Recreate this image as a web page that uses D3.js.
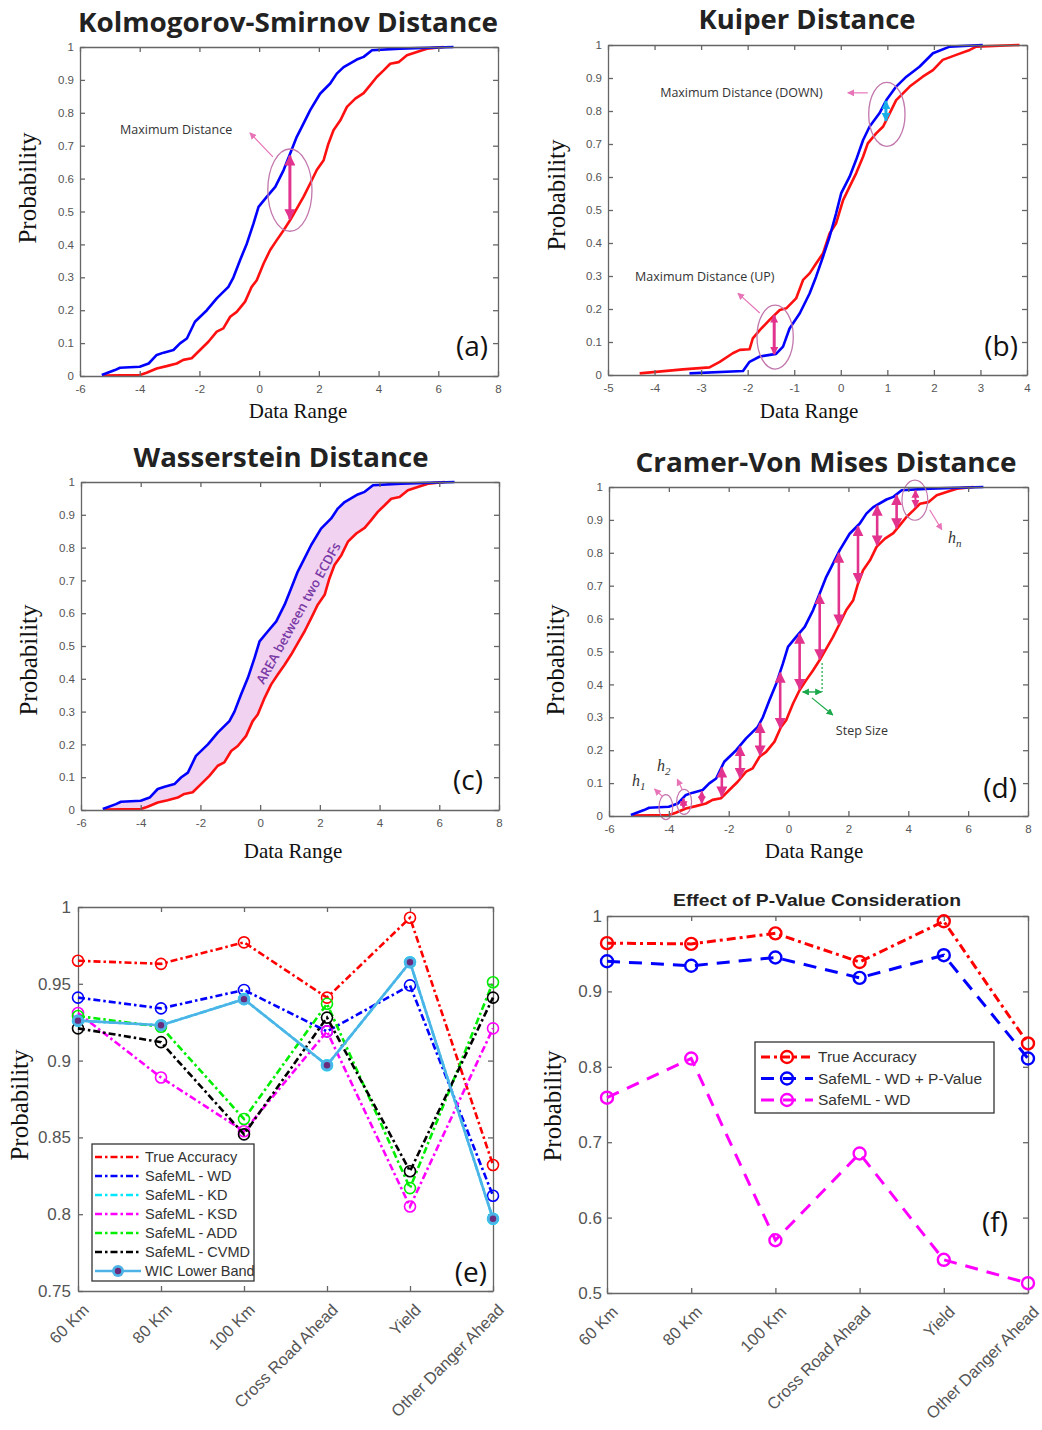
<!DOCTYPE html>
<html>
<head>
<meta charset="utf-8">
<script src="https://cdn.jsdelivr.net/npm/d3@7"></script>
<style>
  body { margin: 0; background: #fff; }
  svg { display: block; }
  .axis path, .axis line { stroke: #666; stroke-width: 1.3; }
  .axis text { font-family: "Liberation Sans", Arial, sans-serif; fill: #555; }
  .title { font-family: "Open Sans", sans-serif; font-weight: 700; fill: #222; }
  .serif { font-family: "Liberation Serif", "Times New Roman", serif; fill: #111; }
  .note { font-family: "Open Sans", sans-serif; fill: #333; }
  .tag { font-family: "Open Sans", sans-serif; fill: #111; }
  .legend text { font-family: "Liberation Sans", Arial, sans-serif; fill: #333; }
</style>
</head>
<body>
<svg id="chart" width="1042" height="1430"></svg>
<script>
// ECDFs used in panels (a), (c), (d)
const ecdfBlueX = [-5.27, -4.83, -4.66, -4.0, -3.7, -3.43, -3.2, -2.87, -2.65, -2.42, -2.15, -1.75, -1.42, -1.03, -0.86, -0.64, -0.41, -0.19, -0.02, 0.26, 0.54, 0.82, 1.04, 1.26, 1.43, 1.71, 2.04, 2.38, 2.6, 2.83, 3.27, 3.5, 3.78, 4.72, 6.51]
const ecdfBlueP = [0.003, 0.018, 0.025, 0.028, 0.038, 0.064, 0.071, 0.079, 0.099, 0.114, 0.165, 0.2, 0.236, 0.271, 0.3, 0.352, 0.403, 0.463, 0.514, 0.545, 0.575, 0.626, 0.676, 0.727, 0.757, 0.808, 0.858, 0.889, 0.919, 0.939, 0.962, 0.97, 0.99, 0.995, 1.0]
const ecdfRedX = [-5.22, -3.99, -3.77, -3.43, -3.1, -2.76, -2.54, -2.26, -1.98, -1.7, -1.42, -1.2, -0.97, -0.75, -0.47, -0.25, -0.08, 0.15, 0.37, 0.59, 0.82, 1.04, 1.26, 1.49, 1.71, 1.93, 2.16, 2.32, 2.49, 2.72, 2.94, 3.22, 3.5, 3.72, 3.94, 4.17, 4.39, 4.67, 4.95, 5.28, 5.62, 6.18]
const ecdfRedP = [0.001, 0.003, 0.01, 0.023, 0.03, 0.038, 0.049, 0.054, 0.079, 0.104, 0.135, 0.145, 0.18, 0.195, 0.226, 0.271, 0.291, 0.342, 0.383, 0.413, 0.443, 0.474, 0.509, 0.545, 0.585, 0.626, 0.656, 0.706, 0.747, 0.777, 0.818, 0.843, 0.86, 0.884, 0.909, 0.929, 0.949, 0.954, 0.975, 0.985, 0.995, 1.0]

// ECDFs of panel (b)
const kuiperBlueX = [-3.25, -2.1, -1.96, -1.74, -1.39, -1.24, -1.1, -0.88, -0.67, -0.53, -0.38, -0.24, -0.1, 0.01, 0.19, 0.33, 0.48, 0.62, 0.83, 0.98, 1.19, 1.41, 1.69, 1.98, 2.34, 3.05]
const kuiperBlueP = [0.005, 0.012, 0.04, 0.056, 0.064, 0.086, 0.141, 0.187, 0.247, 0.298, 0.359, 0.419, 0.49, 0.551, 0.601, 0.652, 0.712, 0.753, 0.793, 0.833, 0.874, 0.904, 0.934, 0.975, 0.995, 1.0]
const kuiperRedX = [-4.32, -3.39, -2.82, -2.6, -2.32, -2.17, -1.96, -1.89, -1.74, -1.53, -1.31, -1.17, -0.96, -0.81, -0.67, -0.53, -0.38, -0.24, -0.1, 0.05, 0.19, 0.33, 0.48, 0.58, 0.76, 0.91, 1.05, 1.19, 1.48, 1.76, 1.98, 2.19, 2.48, 2.77, 2.91, 3.84]
const kuiperRedP = [0.005, 0.017, 0.023, 0.04, 0.066, 0.076, 0.078, 0.111, 0.136, 0.167, 0.197, 0.202, 0.232, 0.288, 0.308, 0.338, 0.369, 0.429, 0.46, 0.53, 0.571, 0.611, 0.662, 0.702, 0.732, 0.753, 0.793, 0.833, 0.874, 0.904, 0.924, 0.955, 0.97, 0.985, 0.995, 1.0]

// where the h_i arrows of panel (d) stand
const cvmArrowX = [-3.51, -2.9, -2.23, -1.62, -0.95, -0.28, 0.37, 1.04, 1.68, 2.32, 2.96, 3.61, 4.24]

// panel (e)
const signs = ['60 Km', '80 Km', '100 Km', 'Cross Road Ahead', 'Yield', 'Other Danger Ahead']
const trueAccuracy = [0.965, 0.963, 0.977, 0.941, 0.993, 0.832]
const safemlWD = [0.941, 0.934, 0.946, 0.919, 0.949, 0.812]
const safemlKD = [0.926, 0.923, 0.940, 0.897, 0.964, 0.797]
const safemlKSD = [0.931, 0.889, 0.854, 0.919, 0.805, 0.921]
const safemlADD = [0.929, 0.922, 0.862, 0.937, 0.817, 0.951]
const safemlCVMD = [0.921, 0.912, 0.852, 0.928, 0.828, 0.941]
const wicLowerBand = [0.926, 0.923, 0.940, 0.897, 0.964, 0.797]

// panel (f)
const pTrueAccuracy = [0.964, 0.963, 0.977, 0.939, 0.993, 0.831]
const pSafemlWDPValue = [0.940, 0.934, 0.945, 0.918, 0.948, 0.811]
const pSafemlWD = [0.759, 0.811, 0.570, 0.685, 0.544, 0.513]

const BLUE = '#0000ff'
const RED = '#ff1010'
const PINK = '#e2338f'
const RING = '#c277ad'

const svg = d3.select('#chart')
const defs = svg.append('defs')

function marker(id, color, size) {
    defs.append('marker')
        .attr('id', id)
        .attr('viewBox', '0 0 10 10')
        .attr('refX', 9).attr('refY', 5)
        .attr('markerWidth', size).attr('markerHeight', size)
        .attr('markerUnits', 'userSpaceOnUse')
        .attr('orient', 'auto-start-reverse')
        .append('path')
            .attr('d', 'M0,0 L10,5 L0,10 Z')
            .attr('fill', color)
}
marker('head-pink', PINK, 11)
marker('head-small', PINK, 8)
marker('head-thin', '#e874b8', 7)
marker('head-cyan', '#18aee8', 9)
marker('head-green', '#1aa84a', 7)

// linear reading of an ECDF at v
function at(xs, ps, v) {
    const i = Math.min(Math.max(d3.bisectRight(xs, v), 1), xs.length - 1)
    const t = (v - xs[i - 1]) / (xs[i] - xs[i - 1])
    return ps[i - 1] + t * (ps[i] - ps[i - 1])
}

function frame(g, x, y, xTicks, yTicks, o) {
    const [x0, x1] = x.range()
    const [y0, y1] = y.range()
    g.append('g').attr('class', 'axis').attr('transform', `translate(0,${y0})`)
        .call(d3.axisBottom(x).tickValues(xTicks).tickSize(-5).tickSizeOuter(0)
            .tickPadding(o.xPad).tickFormat(o.xFmt || (d => d)))
        .selectAll('text').style('font-size', o.font + 'px')
    g.append('g').attr('class', 'axis').attr('transform', `translate(0,${y1})`)
        .call(d3.axisTop(x).tickValues(xTicks).tickSize(-5).tickSizeOuter(0).tickFormat(''))
    g.append('g').attr('class', 'axis').attr('transform', `translate(${x0},0)`)
        .call(d3.axisLeft(y).tickValues(yTicks).tickSize(-5).tickSizeOuter(0)
            .tickPadding(o.yPad).tickFormat(d => +d.toFixed(2)))
        .selectAll('text').style('font-size', o.font + 'px')
    g.append('g').attr('class', 'axis').attr('transform', `translate(${x1},0)`)
        .call(d3.axisRight(y).tickValues(yTicks).tickSize(-5).tickSizeOuter(0).tickFormat(''))
}

function title(text, cx, base, width, size, font) {
    svg.append('text').attr('class', 'title')
        .attr('x', cx).attr('y', base)
        .attr('text-anchor', 'middle')
        .attr('textLength', width).attr('lengthAdjust', 'spacingAndGlyphs')
        .style('font-size', size + 'px')
        .style('font-family', font || null)
        .text(text)
}

function yLabel(cx, cy) {
    svg.append('text').attr('class', 'serif')
        .attr('transform', `translate(${cx},${cy}) rotate(-90)`)
        .attr('text-anchor', 'middle').attr('dy', '0.35em')
        .style('font-size', '25px')
        .text('Probability')
}

function xLabel(cx, base) {
    svg.append('text').attr('class', 'serif')
        .attr('x', cx).attr('y', base)
        .attr('text-anchor', 'middle')
        .style('font-size', '21px')
        .text('Data Range')
}

function tag(text, xr, base) {
    svg.append('text').attr('class', 'tag')
        .attr('x', xr).attr('y', base).attr('text-anchor', 'end')
        .style('font-size', '28px')
        .text(text)
}

function ecdfPanel(box, xDomain, xStep) {
    const x = d3.scaleLinear().domain(xDomain).range([box.left, box.right])
    const y = d3.scaleLinear().domain([0, 1]).range([box.bottom, box.top])
    const g = svg.append('g')
    g.append('rect')
        .attr('x', box.left).attr('y', box.top)
        .attr('width', box.right - box.left).attr('height', box.bottom - box.top)
        .attr('fill', '#fff')
    const body = g.append('g')
    frame(g, x, y, d3.range(xDomain[0], xDomain[1] + 0.01, xStep), d3.range(0, 1.001, 0.1),
        { xPad: 9, yPad: 6, font: 11.5 })
    return { g: body, x, y }
}

function curve(p, xs, ps, color) {
    const line = d3.line().x(d => p.x(d[0])).y(d => p.y(d[1]))
    p.g.append('path')
        .attr('d', line(d3.zip(xs, ps)))
        .attr('fill', 'none').attr('stroke', color)
        .attr('stroke-width', 2.6).attr('stroke-linejoin', 'round')
}

function ring(p, cx, cy, rx, ry, w) {
    p.g.append('ellipse')
        .attr('cx', p.x(cx)).attr('cy', p.y(cy))
        .attr('rx', Math.abs(p.x(rx) - p.x(0))).attr('ry', Math.abs(p.y(ry) - p.y(0)))
        .attr('fill', 'none').attr('stroke', RING).attr('stroke-width', w || 1.3)
}

function arrow(p, xa, ya, xb, yb, color, width, head, both) {
    const l = p.g.append('line')
        .attr('x1', p.x(xa)).attr('y1', p.y(ya))
        .attr('x2', p.x(xb)).attr('y2', p.y(yb))
        .attr('stroke', color).attr('stroke-width', width)
        .attr('marker-end', `url(#${head})`)
    if (both) l.attr('marker-start', `url(#${head})`)
    return l
}

function note(p, text, xv, yv, size) {
    p.g.append('text').attr('class', 'note')
        .attr('x', p.x(xv)).attr('y', p.y(yv))
        .style('font-size', (size || 12.5) + 'px')
        .text(text)
}

// ---------- (a) Kolmogorov-Smirnov ----------
const pa = ecdfPanel({ left: 80, right: 498, top: 47, bottom: 376 }, [-6, 8], 2)
curve(pa, ecdfRedX, ecdfRedP, RED)
curve(pa, ecdfBlueX, ecdfBlueP, BLUE)
ring(pa, 1.03, 0.565, 0.74, 0.125)
arrow(pa, 1.03, at(ecdfRedX, ecdfRedP, 1.03) + 0.004, 1.03, at(ecdfBlueX, ecdfBlueP, 1.03) - 0.004, PINK, 3, 'head-pink', true)
arrow(pa, 0.46, 0.666, -0.31, 0.739, '#e874b8', 1.2, 'head-thin')
note(pa, 'Maximum  Distance', -4.66, 0.736)
title('Kolmogorov-Smirnov Distance', 288, 32, 420, 26)
yLabel(27, 188)
xLabel(298, 418)
tag('(a)', 488, 356)

// ---------- (b) Kuiper ----------
const pb = ecdfPanel({ left: 608, right: 1027, top: 45, bottom: 375 }, [-5, 4], 1)
curve(pb, kuiperRedX, kuiperRedP, RED)
curve(pb, kuiperBlueX, kuiperBlueP, BLUE)
ring(pb, 0.99, 0.79, 0.39, 0.097)
ring(pb, -1.41, 0.115, 0.39, 0.097)
arrow(pb, 0.97, at(kuiperRedX, kuiperRedP, 0.97), 0.97, at(kuiperBlueX, kuiperBlueP, 0.97), '#18aee8', 3, 'head-cyan', true)
arrow(pb, -1.43, at(kuiperBlueX, kuiperBlueP, -1.43), -1.43, at(kuiperRedX, kuiperRedP, -1.43), PINK, 3, 'head-small', true)
arrow(pb, 0.58, 0.855, 0.15, 0.855, '#e874b8', 1.2, 'head-thin')
arrow(pb, -1.74, 0.188, -2.21, 0.248, '#e874b8', 1.2, 'head-thin')
note(pb, 'Maximum  Distance (DOWN)', -3.88, 0.842)
note(pb, 'Maximum  Distance (UP)', -4.42, 0.285)
title('Kuiper Distance', 807, 29, 217, 26)
yLabel(556, 195)
xLabel(809, 418)
tag('(b)', 1018, 356)

// ---------- (c) Wasserstein ----------
const pc = ecdfPanel({ left: 81, right: 499, top: 482, bottom: 810 }, [-6, 8], 2)
const band = d3.zip(ecdfBlueX, ecdfBlueP).concat(d3.zip(ecdfRedX, ecdfRedP).reverse())
pc.g.append('path')
    .attr('d', d3.line().x(d => pc.x(d[0])).y(d => pc.y(d[1]))(band) + 'Z')
    .attr('fill', '#f1d2f1').attr('stroke', 'none')
curve(pc, ecdfRedX, ecdfRedP, RED)
curve(pc, ecdfBlueX, ecdfBlueP, BLUE)
pc.g.append('text')
    .attr('transform', `translate(${pc.x(1.28)},${pc.y(0.6)}) rotate(-61)`)
    .attr('text-anchor', 'middle').attr('dy', '0.35em')
    .style('font-family', '"Open Sans", sans-serif').style('font-weight', 600)
    .style('font-size', '13px').style('fill', '#7a3aa6')
    .text('AREA between two ECDFs')
title('Wasserstein Distance', 281, 467, 295, 26)
yLabel(28, 660)
xLabel(293, 858)
tag('(c)', 483, 790)

// ---------- (d) Cramer-Von Mises ----------
const pd = ecdfPanel({ left: 609, right: 1028, top: 487, bottom: 816 }, [-6, 8], 2)
curve(pd, ecdfRedX, ecdfRedP, RED)
curve(pd, ecdfBlueX, ecdfBlueP, BLUE)
cvmArrowX.forEach(v => {
    const top = at(ecdfBlueX, ecdfBlueP, v)
    const bot = at(ecdfRedX, ecdfRedP, v)
    const big = top - bot > 0.06
    arrow(pd, v, bot + 0.003, v, top - 0.003, PINK, big ? 2.6 : 2, big ? 'head-pink' : 'head-small', true)
})
ring(pd, -4.1, 0.027, 0.23, 0.038, 1.2)
ring(pd, -3.49, 0.043, 0.25, 0.038, 1.2)
ring(pd, 4.22, 0.96, 0.43, 0.061, 1.2)
arrow(pd, -4.2, 0.058, -4.48, 0.082, '#e874b8', 1.2, 'head-thin')
arrow(pd, -3.55, 0.08, -3.72, 0.112, '#e874b8', 1.2, 'head-thin')
arrow(pd, 4.72, 0.93, 5.12, 0.87, '#e874b8', 1.2, 'head-thin')
const hLabels = [[-5.23, 0.091, '1'], [-4.4, 0.137, '2'], [5.33, 0.83, 'n']]
hLabels.forEach(([hx, hy, sub]) => {
    const t = pd.g.append('text').attr('class', 'serif')
        .attr('x', pd.x(hx)).attr('y', pd.y(hy))
        .style('font-size', '16px').style('font-style', 'italic').style('fill', '#333')
        .text('h')
    t.append('tspan').attr('dy', 4).style('font-size', '11px').text(sub)
})
pd.g.append('line')
    .attr('x1', pd.x(1.12)).attr('y1', pd.y(0.465))
    .attr('x2', pd.x(1.12)).attr('y2', pd.y(0.377))
    .attr('stroke', '#1aa84a').attr('stroke-width', 1.2).attr('stroke-dasharray', '2,2')
arrow(pd, 0.47, 0.377, 1.1, 0.377, '#1aa84a', 1.4, 'head-green', true)
arrow(pd, 0.78, 0.359, 1.48, 0.307, '#1aa84a', 1.2, 'head-green')
note(pd, 'Step Size', 1.58, 0.246)
title('Cramer-Von Mises Distance', 826, 472, 381, 26)
yLabel(555, 660)
xLabel(814, 858)
tag('(d)', 1017, 798)

// ---------- category panels ----------
function categoryPanel(box, yDomain, yTicks, yPad) {
    const x = d3.scalePoint().domain(signs).range([box.left, box.right])
    const y = d3.scaleLinear().domain(yDomain).range([box.bottom, box.top])
    const g = svg.append('g')
    frame(g, x, y, signs, yTicks, { xPad: 9, yPad, font: 17, xFmt: () => '' })
    signs.forEach(s => {
        g.append('text')
            .attr('transform', `translate(${x(s) + 8},${box.bottom + 16}) rotate(-45)`)
            .attr('text-anchor', 'end').attr('dy', '0.35em')
            .style('font-family', '"Liberation Sans", Arial, sans-serif')
            .style('font-size', '16.5px').style('fill', '#555')
            .text(s)
    })
    return { g: svg.append('g'), x, y }
}

function series(p, values, color, dash, width, r, sw) {
    const line = d3.line().x((d, i) => p.x(signs[i])).y(d => p.y(d))
    p.g.append('path')
        .attr('d', line(values))
        .attr('fill', 'none').attr('stroke', color)
        .attr('stroke-width', width).attr('stroke-dasharray', dash)
    p.g.selectAll(null).data(values).enter()
        .append('circle')
            .attr('cx', (d, i) => p.x(signs[i])).attr('cy', d => p.y(d))
            .attr('r', r).attr('fill', 'none')
            .attr('stroke', color).attr('stroke-width', sw)
}

// ---------- (e) ----------
const DASHDOT = '7,3,2.5,3'
const WIC = '#4db3e6'
const pe = categoryPanel({ left: 78, right: 493, top: 907, bottom: 1291 }, [0.75, 1], [0.75, 0.8, 0.85, 0.9, 0.95, 1], 7)
const eSeries = [
    ['True Accuracy', trueAccuracy, '#ff0000'],
    ['SafeML - WD', safemlWD, '#0000ff'],
    ['SafeML - KD', safemlKD, '#00e8ff'],
    ['SafeML - KSD', safemlKSD, '#ff00ff'],
    ['SafeML - ADD', safemlADD, '#00ee00'],
    ['SafeML - CVMD', safemlCVMD, '#000000']
]
eSeries.forEach(([name, vals, color]) => series(pe, vals, color, DASHDOT, 2.6, 5.5, 1.6))
pe.g.append('path')
    .attr('d', d3.line().x((d, i) => pe.x(signs[i])).y(d => pe.y(d))(wicLowerBand))
    .attr('fill', 'none').attr('stroke', WIC).attr('stroke-width', 2.6)
pe.g.selectAll(null).data(wicLowerBand).enter()
    .append('circle')
        .attr('cx', (d, i) => pe.x(signs[i])).attr('cy', d => pe.y(d))
        .attr('r', 6).attr('fill', WIC)
pe.g.selectAll(null).data(wicLowerBand).enter()
    .append('circle')
        .attr('cx', (d, i) => pe.x(signs[i])).attr('cy', d => pe.y(d))
        .attr('r', 3.2).attr('fill', '#6b2b7c')

const le = svg.append('g').attr('class', 'legend')
le.append('rect').attr('x', 92).attr('y', 1144).attr('width', 162).attr('height', 137)
    .attr('fill', '#fff').attr('stroke', '#333').attr('stroke-width', 1.3)
eSeries.concat([['WIC Lower Band', null, WIC]]).forEach(([name, vals, color], i) => {
    const cy = 1157 + i * 19
    le.append('line').attr('x1', 95).attr('x2', 141).attr('y1', cy).attr('y2', cy)
        .attr('stroke', color).attr('stroke-width', 2.6)
        .attr('stroke-dasharray', vals ? DASHDOT : null)
    if (!vals) {
        le.append('circle').attr('cx', 118).attr('cy', cy).attr('r', 6).attr('fill', WIC)
        le.append('circle').attr('cx', 118).attr('cy', cy).attr('r', 3.2).attr('fill', '#6b2b7c')
    }
    le.append('text').attr('x', 145).attr('y', cy).attr('dy', '0.35em')
        .style('font-size', '14.5px').text(name)
})
yLabel(19, 1105)
tag('(e)', 487, 1282)

// ---------- (f) ----------
const pf = categoryPanel({ left: 607, right: 1028, top: 916, bottom: 1293 }, [0.5, 1], [0.5, 0.6, 0.7, 0.8, 0.9, 1], 5)
const fSeries = [
    ['True Accuracy', pTrueAccuracy, '#ff0000', '9,4,3,4'],
    ['SafeML - WD + P-Value', pSafemlWDPValue, '#0000ff', '13,9'],
    ['SafeML - WD', pSafemlWD, '#ff00ff', '13,9']
]
fSeries.slice().reverse().forEach(([name, vals, color, dash]) => series(pf, vals, color, dash, 3, 6, 2.4))

const lf = svg.append('g').attr('class', 'legend')
lf.append('rect').attr('x', 755).attr('y', 1042).attr('width', 239).attr('height', 71)
    .attr('fill', '#fff').attr('stroke', '#333').attr('stroke-width', 1.3)
fSeries.forEach(([name, vals, color, dash], i) => {
    const cy = 1057 + i * 21.5
    lf.append('line').attr('x1', 761).attr('x2', 813).attr('y1', cy).attr('y2', cy)
        .attr('stroke', color).attr('stroke-width', 3).attr('stroke-dasharray', dash)
    lf.append('circle').attr('cx', 787).attr('cy', cy).attr('r', 6)
        .attr('fill', 'none').attr('stroke', color).attr('stroke-width', 2.4)
    lf.append('text').attr('x', 818).attr('y', cy).attr('dy', '0.35em')
        .style('font-size', '15.5px').text(name)
})
title('Effect of P-Value Consideration', 817, 906, 288, 17, '"Liberation Sans", Arial, sans-serif')
yLabel(552, 1106)
tag('(f)', 1008, 1232)
</script>
</body>
</html>
